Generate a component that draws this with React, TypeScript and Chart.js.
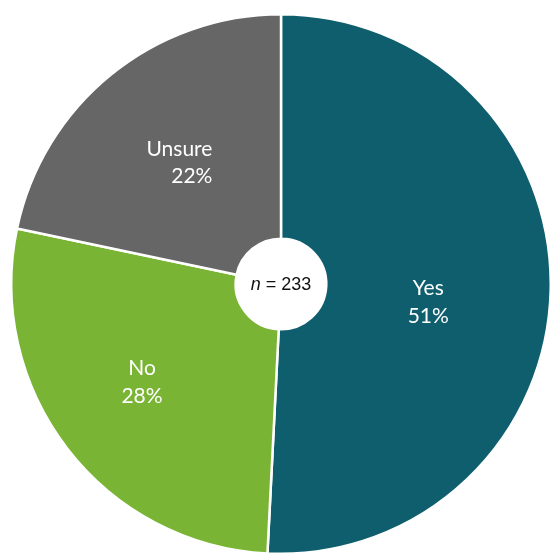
import React, { useEffect, useRef } from "react";
import { Chart, registerables } from "chart.js";

Chart.register(...registerables);

const categories = ["Yes", "No", "Unsure"];
const shares = [50.8, 27.5, 21.7];
const percentLabels = ["51%", "28%", "22%"];
const sampleSize = "233";

const colors = ["#0e5e6d", "#7ab435", "#666666"];
// label placement: fraction of outer radius, angle nudge (deg), alignment
const labelPlacement = [
  { r: 0.55, da: 5.5, align: "center" },
  { r: 0.63, da: 2.5, align: "center" },
  { r: 0.585, da: -1, align: "right" },
];

const labelPlugin = {
  id: "sliceLabels",
  afterDatasetsDraw(chart: any) {
    const ctx = chart.ctx;
    const meta = chart.getDatasetMeta(0);
    ctx.save();
    meta.data.forEach((arc: any, i: number) => {
      const p = labelPlacement[i];
      const mid = (arc.startAngle + arc.endAngle) / 2 + (p.da * Math.PI) / 180;
      const r = arc.outerRadius * p.r;
      const cx = arc.x + Math.cos(mid) * r;
      const cy = arc.y + Math.sin(mid) * r;
      ctx.fillStyle = "#ffffff";
      ctx.font = "21px Lato";
      ctx.textBaseline = "middle";
      if (p.align === "right") {
        const w = Math.max(ctx.measureText(categories[i]).width, ctx.measureText(percentLabels[i]).width);
        const right = cx + w / 2;
        ctx.textAlign = "right";
        ctx.fillText(categories[i], right, cy - 13.5);
        ctx.fillText(percentLabels[i], right, cy + 13.5);
      } else {
        ctx.textAlign = "center";
        ctx.fillText(categories[i], cx, cy - 14);
        ctx.fillText(percentLabels[i], cx, cy + 14);
      }
    });
    // center text
    const a0 = meta.data[0];
    ctx.fillStyle = "#111111";
    ctx.textBaseline = "middle";
    const fam = "'Liberation Sans', Arial, sans-serif";
    ctx.font = "italic 18px " + fam;
    const nW = ctx.measureText("n").width;
    ctx.font = "18px " + fam;
    const rest = " = " + sampleSize;
    const rW = ctx.measureText(rest).width;
    const start = a0.x - (nW + rW) / 2;
    ctx.textAlign = "left";
    ctx.font = "italic 18px " + fam;
    ctx.fillText("n", start, a0.y + 1);
    ctx.font = "18px " + fam;
    ctx.fillText(rest, start + nW, a0.y + 1);
    ctx.restore();
  },
};

export default function App() {
  const ref = useRef<HTMLCanvasElement>(null);
  useEffect(() => {
    const chart = new Chart(ref.current as HTMLCanvasElement, {
      type: "doughnut",
      data: {
        labels: categories,
        datasets: [
          {
            data: shares,
            backgroundColor: colors,
            borderColor: "#ffffff",
            borderWidth: 2.5,
          },
        ],
      },
      options: {
        animation: false,
        responsive: false,
        cutout: "16.8%",
        layout: { padding: { left: 10, right: 10, top: 13, bottom: 13 } },
        plugins: {
          legend: { display: false },
          tooltip: { enabled: false },
        },
      },
      plugins: [labelPlugin],
    });
    return () => chart.destroy();
  }, []);
  return (
    <div style={{ position: "fixed", left: 0, top: 0, width: 550, height: 553, overflow: "hidden", background: "#fff" }}>
      <canvas ref={ref} width={562} height={568} style={{ position: "absolute", left: 0, top: 0, width: 562, height: 568 }} />
    </div>
  );
}
